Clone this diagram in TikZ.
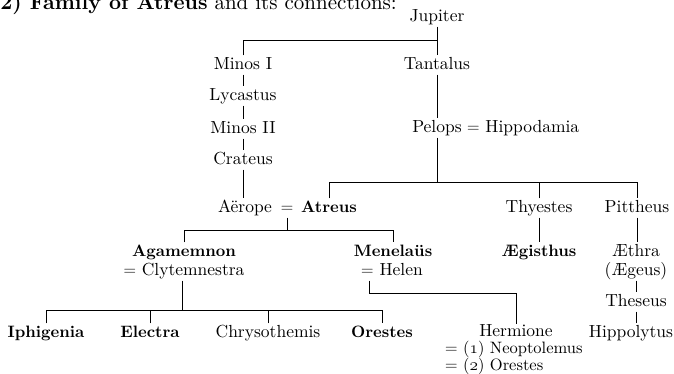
\documentclass[tikz,border=0pt]{standalone}
\usepackage{fontspec}
\setmainfont{lmroman10-regular}[Extension=.otf, BoldFont=lmroman10-bold]
\usetikzlibrary{calc}
\newcommand{\osn}[1]{{\usefont{OML}{cmm}{m}{it}#1}}
\begin{document}
\begin{tikzpicture}[x=1pt,y=-1pt,
  nm/.style={font=\fontsize{17.5}{19}\selectfont, text height=12pt, text depth=4pt, inner ysep=1.5pt, inner xsep=1pt, anchor=base},
  bnm/.style={nm, font=\fontsize{16.5}{19}\selectfont\bfseries},
  nl/.style={font=\fontsize{16.5}{13.5}\selectfont, inner sep=0pt, anchor=north west, align=left},
  ln/.style={line width=0.75pt}]
\useasboundingbox (0,0) rectangle (674,373);
\clip (0,0) rectangle (674,373);
\fill[white] (0,0) rectangle (674,373);

% heading (cut by the top edge)
\node[anchor=base east, inner sep=0pt, font=\fontsize{21}{24}\selectfont] (heading) at (397,9) {\textbf{2) Family of Atreus} and its connections:};

% people
\node[nm] (jupiter) at (437,21) {Jupiter};
\node[nm] (minosI) at (243,69) {Minos I};
\node[nm] (tantalus) at (437,69) {Tantalus};
\node[nm] (lycastus) at (243,100) {Lycastus};
\node[nm] (minosII) at (243,133) {Minos II};
\node[nm] (pelops) at (437,132) {Pelops};
\node[nm, anchor=base west] (hippodamia) at ([xshift=3pt]pelops.base east) {$=$ Hippodamia};
\node[nm] (crateus) at (243,164) {Crateus};
\node[nm] (aerope) at (245,212) {Aërope};
\node[nm] (eq1) at (287,212) {$=$};
\node[bnm] (atreus) at (329,212) {Atreus};
\node[nm] (thyestes) at (539,212) {Thyestes};
\node[nm] (pittheus) at (637,212) {Pittheus};
\node[bnm] (agamemnon) at (184,256) {Agamemnon};
\node[bnm] (menelaus) at (393,256) {Menelaüs};
\node[bnm] (aegisthus) at (539,256) {Ægisthus};
\node[nm] (aethra) at (636,256) {Æthra};
\node[nm] (clyt) at (184,275) {$=$ Clytemnestra};
\node[nm] (helen) at (392,275) {$=$ Helen};
\node[nm] (aegeus) at (636,275) {(Ægeus)};
\node[nm] (theseus) at (636,306) {Theseus};
\node[bnm] (iphigenia) at (46,337) {Iphigenia};
\node[bnm] (electra) at (150,337) {Electra};
\node[nm] (chryso) at (268,337) {Chrysothemis};
\node[bnm] (orestes) at (382,337) {Orestes};
\node[nm, text depth=0pt, inner ysep=0pt] (hermione) at (516,336.5) {Hermione};
\node[nm] (hippolytus) at (631,337) {Hippolytus};
\node[nl] (spouses) at (445,340.5) {$=$ (\osn{1}) Neoptolemus\\$=$ (\osn{2}) Orestes};

% bars
\coordinate (topbar) at (437,40);
\coordinate (atbar) at (437,182);
\coordinate (agbar) at (287,230);
\coordinate (chbar) at (182,310);

% connectors
\draw[ln] (jupiter) -- (tantalus);
\draw[ln] (minosI.north) |- (topbar);
\draw[ln] (minosI) -- (lycastus);
\draw[ln] (lycastus) -- (minosII);
\draw[ln] (minosII) -- (crateus);
\draw[ln] (crateus.south) -- (crateus.south |- aerope.north);
\draw[ln] (tantalus) -- (pelops);
\draw[ln] (pelops.south) -- (atbar);
\draw[ln] (atreus.north) |- (pittheus.north |- atbar) -- (pittheus.north);
\draw[ln] (thyestes.north) -- (thyestes.north |- atbar);
\draw[ln] (thyestes) -- (aegisthus);
\draw[ln] (pittheus.south) -- (pittheus.south |- aethra.north);
\draw[ln] (aegeus) -- (theseus);
\draw[ln] (theseus) -- (hippolytus.north -| theseus.south);
\draw[ln] (eq1.south) -- (agbar);
\draw[ln] (agamemnon.north) |- (menelaus.north |- agbar) -- (menelaus.north);
\draw[ln] (clyt.south -| chbar) -- (chbar);
\draw[ln] (iphigenia.north) |- (orestes.north |- chbar) -- (orestes.north);
\draw[ln] (electra.north) -- (electra.north |- chbar);
\draw[ln] (chryso.north) -- (chryso.north |- chbar);
\draw[ln] ([xshift=9pt]helen.south west) -- ++(0,13) -| (hermione.north);
\end{tikzpicture}
\end{document}
